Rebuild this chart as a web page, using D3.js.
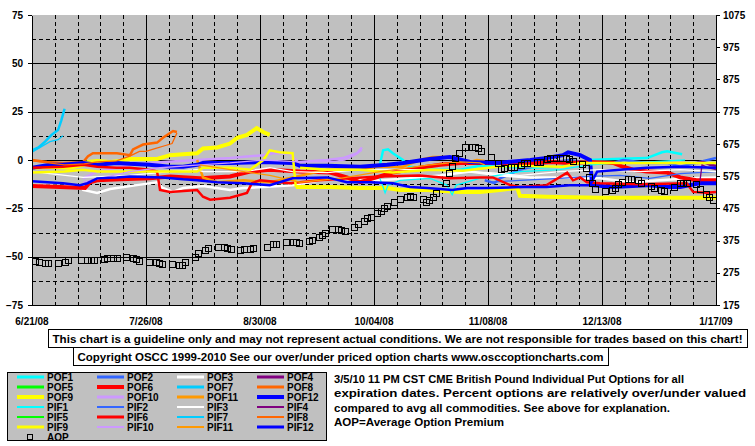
<!DOCTYPE html>
<html><head><meta charset="utf-8">
<script src="https://cdn.jsdelivr.net/npm/d3@7"></script>
<style>
body{margin:0;background:#fff;}
svg text{font-family:Arial,"Liberation Sans",sans-serif;font-weight:bold;fill:#000;}
</style>
</head><body>
<svg id="c" width="755" height="446"></svg>
<script>
// ---------- data ----------
const startDate = new Date(2008, 5, 21);
const endDate = new Date(2009, 0, 17);
const xTickLabels = ["6/21/08","7/26/08","8/30/08","10/04/08","11/08/08","12/13/08","1/17/09"];
const leftTicks = [-75,-50,-25,0,25,50,75];
const rightTicks = [175,275,375,475,575,675,775,875,975,1075];
const seriesNames = ["POF1","POF2","POF3","POF4","POF5","POF6","POF7","POF8","POF9","POF10","POF11","POF12",
                     "PIF1","PIF2","PIF3","PIF4","PIF5","PIF6","PIF7","PIF8","PIF9","PIF10","PIF11","PIF12"];
const monthColors = ["#00FFFF","#3366FF","#FFFFFF","#800080","#00FF00","#FF0000","#00CCFF","#FF6600","#FFFF00","#CC99FF","#FF9900","#0000FF"];

// [day offset from 6/21/08, percent]; null = gap
const POF1 = [[106.8,-2.5],[107.8,5],[109.3,5.5],[110.8,3.5],[113.9,0],[116,-3.5],[122.2,-5],[131.4,-5],[137.5,-3],[143.7,-3.5],[153,-4],[162,-3.5],[171.3,0],[178.4,0.5],[188.8,1],[193.4,4],[195,4.5],[199.6,3]];
const POF2 = [[139,-10.5],[142,-12],[143.7,-9.5],[149.8,-5],[158,-1.5],[165,0],[171.3,-1.5],[178.4,-1.5],[181.5,0],[188.8,-1.5],[195,-1.5],[199,-3.5],[205,-1],[210,1]];
const POF3 = [[0,-13],[9.5,-13.5],[14.7,-13],[15.7,-15.5],[20,-17],[24,-15],[26,-14.5],[32.2,-13],[38.4,-11.5],[40.2,-14.5],[43.3,-16.5],[46.4,-14.5],[52.5,-13.5],[60.8,-15.5],[64.8,-14.5],[71,-14],[80,-13],[88.4,-10.5],[97.6,-9.5],[106.8,-10.5],[116,-9.5],[125.3,-8],[134.5,-6],[143.7,-8],[153,-9],[163,-9],[174.4,-9.5],[183.6,-11.5],[192.8,-10.5],[202,-9.5],[210,-9]];
const POF4 = [[204.2,-1.5],[206,-1],[208.2,-2.5],[210,-3]];
const POF5 = [];
const POF6 = [[0,-13.5],[8.6,-14],[16.3,-14.5],[17.8,-11.5],[20,-10.5],[27,-10],[36.2,-9.5],[42.4,-8.5],[51.6,-9.5],[60.8,-8.5],[67,-6],[73,-5],[82.3,-6],[91.5,-6.5],[96.7,-9],[100.7,-11.5],[104.7,-9.5],[110.8,-6.5],[119,-4],[125.3,-2.5],[131.4,-1.5],[140.6,-1.5],[149.8,-2],[159,-1],[165,-1.5],[171.3,-1],[178.4,-1.5],[181.5,-3.5],[184.5,-5],[188.8,-6],[195,-6.5],[199,-9],[204,-10.5],[210,-10.5]];
const POF7 = [[0,5],[2,6.5],[4,9.5],[6,13],[8,15.5],[9,20.5],[10,26.5]];
const POF8 = [[0,0],[4.6,-1],[9.5,-1.5],[15.7,-1],[17.2,2],[18.7,3.5],[21.5,3.5],[26.1,3.5],[30.1,2.5],[31,5.5],[34.1,8],[38.4,9],[40.2,11.5],[42.4,14],[43.3,15],[44.5,14.5]];
const POF9 = [[0,-4],[5.5,-3.5],[11.5,-4],[15.7,-2.5],[17.2,-1],[20,-0.5],[24,-1],[27,-0.5],[30,0.5],[34,0.5],[38.4,0.5],[42.4,2.5],[46.4,3],[50.7,3.5],[52.5,6],[56.8,6.5],[60.8,8.5],[63,11.5],[66,13],[69,16.5],[71,14.5],[73,13],null,
              [81,-14],[91.5,-14],[100.7,-14.5],[109,-14.5],[113,-15.5],[121.3,-15.5],[131.4,-16.5],[137.5,-16.5],[143.7,-15.5],[149,-14.5],[149.8,-18.5],[158,-19],[174.4,-19.5],[210,-19.5]];
const POF10 = [[15.7,-9.5],[20,-6],[30,-2.5],[40.2,-1],[50.7,0],[60.8,1],[71,2.5],[74,3.5],[79.2,3.5],[80,1.5],[81.7,-1],[90.6,0],[95.5,1],[99.8,3.5],[101.3,6.5]];
const POF11 = [[50.7,0],[52.5,-9],[56.8,-11.5],[64.8,-10.5],[73,-11.5],[80,-9],[90.6,-5],[100.7,-5],[105.9,-3.5],[113.9,-3.5],[119,0],[123,1.5],[128.3,1.5],[134.5,-1],[136.6,0],[139,-0.5]];
const POF12 = [[0,-4],[5.5,-2.5],[9.5,-2.5],[15.7,-1.5],[20,-2.5],[26,-1.5],[30,-2],[36,-2.5],[42.4,-3.5],[46.4,-3.5],[50.7,-2.5],[52.5,-1.5],[60.8,-1.5],[71,-1],[80,-1.5],[82.3,-3],[90.6,-3],[100.7,-3.5],[109,-2.5],[114,-1.5],[122,0.5],[128.3,1.5],[134.5,-1],[142.8,-1.5],[153,0],[158,1],[163,2.5],[164.6,4],[168.3,2.5],[171.3,0],[172,-13],[178.4,-14],[188.8,-13],[195,-14],[199,-14],[205,-12],[210,-12]];

const PIF1 = [[106.8,-9.5],[107.8,-14],[108.4,-17],[109.3,-13],[113,-10.5],[122.2,-9.5],[127.4,-13],[129,-18],[130.2,-13],[137.5,-9.5],[149.8,-6],[162,-5],[171.3,-2.5],[180.5,-1.5],[189.7,-1],[200.5,0]];
const PIF2 = [[140.6,-11.5],[149.8,-10.5],[162,-9.5],[171.3,-8.5],[180.5,-8],[189.7,-9.5],[199,-7],[210,-6]];
const PIF3 = [[0,-6],[15.7,-9],[30,-8],[42.4,-6],[50.7,-5],[52.5,-6],[64.8,-6],[73,-4],[80,-6],[90.6,-6.5],[100.7,-5],[110.8,-5],[121.3,-5],[131.4,-6],[140.6,-6.5],[149.8,-8],[162,-6],[174.4,-5],[186.7,-6],[199,-5],[210,-6]];
const PIF4 = [[205,-12],[205.7,-2.5],[207.5,-4],[210,-5]];
const PIF5 = [];
const PIF6 = [[0,-4],[9.5,-3.5],[15.7,-2.5],[20,-3.5],[26,-4],[30,-4],[36.2,-5],[38.4,-6],[39.3,-15.5],[42.4,-16.5],[50.7,-15.5],[52.5,-19],[54.7,-20.5],[60.8,-19.5],[66,-17],[67.5,-12],[70,-10.5],[79.2,-12],[88.4,-10.5],[97.6,-9.5],[106.8,-8.5],[119,-8],[128.3,-9.5],[137.5,-9],[141.5,-9],[146.8,-13],[149.8,-14],[158,-13],[164.3,-6.5],[166.1,-10.5],[168.3,-9],[170.4,-11.5],[174.4,-12],[186.7,-12.5],[201,-12],[203,-16.5],[207,-17],[210,-16.5]];
const PIF7 = [[0,4],[2.5,6.5],[5.5,9.5],[8,10.5],[9.5,12.5]];
const PIF8 = [[0,-0.5],[5,-1.5],[10,-2.5],[16,-2],[20,-1],[26,-0.5],[30,2],[33,4.5],[35,4.5],[38,6],[41,7.5],[43,8.5],[44.5,14]];
const PIF9 = [[0,-6.5],[10,-6],[15.7,-5],[20,-6],[30,-6],[40,-6],[50.7,-6],[52.5,-4],[60.8,-4],[67,-5],[71,0],[73,5],[76,4],[80,3.5],[81,-14],null,
              [82.3,-4],[90.6,-5],[100.7,-5],[110.8,-6.5],[122.2,-5],[132.3,-5.5],[142.8,-3.5],[147.7,-3],[163,-3.5],[168.3,-1.5],[210,-1.5]];
const PIF10 = [[15.7,-11.5],[20.9,-9.5],[30,-6],[39.3,-4],[51.6,-2.5],[60.8,-1.5],[71,0],[82.3,-1],[91.5,-1],[96,0],[99.2,2.5],[101.3,5]];
const PIF11 = [[51.6,-2.5],[60.8,-5],[73,-8],[82.3,-11.5],[94.6,-9.5],[106.8,-6],[122.2,-2.5],[131.4,-1],[137.5,-1.5],[139,-2.5]];
const PIF12 = [[0,-11],[9.5,-12],[14.7,-13],[17,-12],[20,-9.5],[26,-9],[30,-8.5],[40,-9],[46.4,-10],[50.7,-10.5],[56.8,-11.5],[64.8,-12],[73,-13],[80,-9.5],[90.6,-9],[96.7,-11.5],[103.8,-11.5],[110.8,-12],[116,-14],[121.3,-14.5],[129,-15.5],[133.6,-14.5],[140.6,-14.5],[149.8,-14],[158,-14],[165,-13],[171.3,-13],[173.5,-6],[180.5,-5],[188.8,-4],[199,-3.5],[210,-4]];

// Average option premium (right axis)
const AOP = [[1,312],[2,308],[4,305],[5,305],[8,305],[10,308],[11,315],[15,315],[17,315],[18,315],[19,315],[22,318],[23,321],[25,321],[26,321],[29,324],[31,321],[32,318],[33,312],[36,308],[38,308],[39,305],[40,302],[43,302],[45,299],[46,299],[47,308],[50,324],[51,336],[53,346],[54,352],[57,355],[59,355],[60,352],[61,349],[64,346],[65,349],[67,349],[68,352],[72,355],[74,364],[75,364],[78,370],[80,370],[81,370],[82,367],[85,374],[86,377],[88,386],[89,392],[90,398],[92,411],[94,411],[95,408],[96,405],[99,417],[100,426],[102,436],[103,445],[104,448],[106,460],[107,467],[108,476],[109,482],[111,495],[113,504],[115,510],[116,513],[117,510],[120,504],[121,495],[122,501],[123,510],[124,523],[127,554],[128,585],[129,606],[130,631],[131,647],[133,665],[135,665],[136,665],[137,662],[138,653],[141,634],[143,616],[144,597],[145,600],[147,603],[148,603],[150,609],[151,616],[152,616],[155,619],[156,619],[158,628],[159,631],[161,631],[162,631],[164,631],[165,628],[166,622],[169,612],[170,600],[171,572],[172,554],[173,535],[176,529],[178,532],[179,538],[180,550],[181,557],[183,566],[184,566],[186,563],[187,554],[190,544],[191,538],[193,532],[194,529],[197,541],[199,554],[200,554],[201,554],[204,550],[205,535],[207,519],[208,510],[209,501]];

const seriesData = [POF1,POF2,POF3,POF4,POF5,POF6,POF7,POF8,POF9,POF10,POF11,POF12,
                    PIF1,PIF2,PIF3,PIF4,PIF5,PIF6,PIF7,PIF8,PIF9,PIF10,PIF11,PIF12];

const disclaimer = "This chart is a guideline only and may not represent actual conditions. We are not responsible for trades based on this chart!";
const copyright = "Copyright OSCC 1999-2010 See our over/under priced option charts www.osccoptioncharts.com";
const infoLines = ["3/5/10 11 PM CST CME British Pound Individual Put Options for all",
                   "expiration dates. Percent options are relatively over/under valued",
                   "compared to avg all commodities. See above for explanation.",
                   "AOP=Average Option Premium"];

// ---------- drawing ----------
const svg = d3.select("#c");
const L = 32, R = 716, T = 15, B = 305;
const toDate = d => new Date(startDate.getTime() + d * 86400000);
const x = d3.scaleTime().domain([startDate, endDate]).range([L, R]);
const yL = d3.scaleLinear().domain([-75, 75]).range([B, T]);
const yR = d3.scaleLinear().domain([175, 1075]).range([B, T]);

svg.append("rect").attr("x", L).attr("y", T).attr("width", R - L).attr("height", B - T).attr("fill", "#C0C0C0");

// gridlines
const grid = svg.append("g").attr("shape-rendering", "crispEdges");
d3.range(-62.5, 75, 12.5).forEach(v => {
  const solid = Math.abs(v % 25) < 1e-9;
  grid.append("line").attr("x1", L).attr("x2", R).attr("y1", Math.round(yL(v)) + 0.5).attr("y2", Math.round(yL(v)) + 0.5)
    .attr("stroke", "#000").attr("stroke-width", 1).attr("stroke-dasharray", solid ? null : "4,3");
});
d3.range(7, 210, 7).forEach(d => {
  const solid = d % 35 === 0;
  const px = Math.round(x(toDate(d))) + 0.5;
  grid.append("line").attr("x1", px).attr("x2", px).attr("y1", T).attr("y2", B)
    .attr("stroke", "#000").attr("stroke-width", 1).attr("stroke-dasharray", solid ? null : "4,3");
});

// clip
svg.append("clipPath").attr("id", "clip").append("rect").attr("x", L).attr("y", T).attr("width", R - L).attr("height", B - T);
const plot = svg.append("g").attr("clip-path", "url(#clip)");

const line = d3.line().defined(d => d !== null).x(d => x(toDate(d[0]))).y(d => yL(d[1]));
function widthFor(i) {
  const m = i % 12, pof = i < 12;
  const heavy = (m === 5 || m === 8 || m === 11);
  return pof ? (heavy ? 4 : 2.5) : (heavy ? 2.5 : 1.3);
}
seriesData.forEach((data, i) => {
  if (!data.length) return;
  plot.append("path").datum(data).attr("d", line).attr("fill", "none")
    .attr("stroke", monthColors[i % 12]).attr("stroke-width", widthFor(i))
    .attr("stroke-linejoin", "miter").attr("stroke-linecap", "butt");
});

plot.selectAll("rect.aop").data(AOP).enter().append("rect").attr("class", "aop")
  .attr("x", d => Math.round(x(toDate(d[0]))) - 3 + 0.5).attr("y", d => Math.round(yR(d[1])) - 3 + 0.5)
  .attr("width", 6).attr("height", 6).attr("fill", "none").attr("stroke", "#000").attr("stroke-width", 1);

// axes
const fontSize = "10px";
const axL = svg.append("g").attr("transform", `translate(${L},0)`)
  .call(d3.axisLeft(yL).tickValues(leftTicks).tickFormat(d3.format("d")).tickSize(4).tickSizeOuter(0).tickPadding(5));
const axR = svg.append("g").attr("transform", `translate(${R},0)`)
  .call(d3.axisRight(yR).tickValues(rightTicks).tickFormat(d3.format("d")).tickSize(4).tickSizeOuter(0).tickPadding(3));
[axL, axR].forEach(a => {
  a.attr("font-family", null).attr("font-size", null);
  a.selectAll("text").style("font-size", fontSize).style("font-weight", "bold").attr("fill", "#000");
  a.selectAll("line,path").attr("stroke", "#000").attr("shape-rendering", "crispEdges");
});
svg.append("line").attr("x1", L).attr("x2", R).attr("y1", B + 0.5).attr("y2", B + 0.5).attr("stroke", "#000").attr("shape-rendering", "crispEdges");

xTickLabels.forEach((lab, i) => {
  svg.append("text").attr("x", x(toDate(i * 35))).attr("y", 325).attr("text-anchor", "middle")
    .style("font-size", fontSize).text(lab);
});

// disclaimer boxes
function box(bx, by, bw, bh, txt, tl) {
  svg.append("rect").attr("x", bx + 0.5).attr("y", by + 0.5).attr("width", bw).attr("height", bh)
    .attr("fill", "#fff").attr("stroke", "#000").attr("stroke-width", 1);
  svg.append("text").attr("x", bx + bw / 2).attr("y", by + bh - 4.5).attr("text-anchor", "middle")
    .style("font-size", "11.5px").attr("textLength", tl).attr("lengthAdjust", "spacingAndGlyphs").text(txt);
}
box(48, 329, 699, 18, disclaimer, 690);
box(73, 347, 535, 18, copyright, 526);

// legend
const lg = svg.append("g");
lg.append("rect").attr("x", 7.5).attr("y", 372.5).attr("width", 319).attr("height", 68)
  .attr("fill", "#C0C0C0").attr("stroke", "#000").attr("stroke-width", 1);
seriesNames.forEach((name, i) => {
  const col = i % 4, row = Math.floor(i / 4);
  const cx = 17 + col * 80, cy = 377 + row * 10;
  lg.append("line").attr("x1", cx).attr("x2", cx + 27).attr("y1", cy).attr("y2", cy)
    .attr("stroke", monthColors[i % 12]).attr("stroke-width", widthFor(i) >= 4 ? 4 : (widthFor(i) >= 2.5 ? 3 : 2));
  lg.append("text").attr("x", cx + 30).attr("y", cy + 4).style("font-size", "10px").text(name);
});
lg.append("rect").attr("x", 27.5).attr("y", 434.5).attr("width", 5).attr("height", 5)
  .attr("fill", "none").attr("stroke", "#000");
lg.append("text").attr("x", 47).attr("y", 441).style("font-size", "10px").text("AOP");

// info text
const infoWidths = [350, 412, 336, 170];
infoLines.forEach((t, i) => {
  svg.append("text").attr("x", 334).attr("y", 383 + i * 14.3).style("font-size", "10.5px")
    .attr("textLength", infoWidths[i]).attr("lengthAdjust", "spacingAndGlyphs").text(t);
});
</script>
</body></html>
